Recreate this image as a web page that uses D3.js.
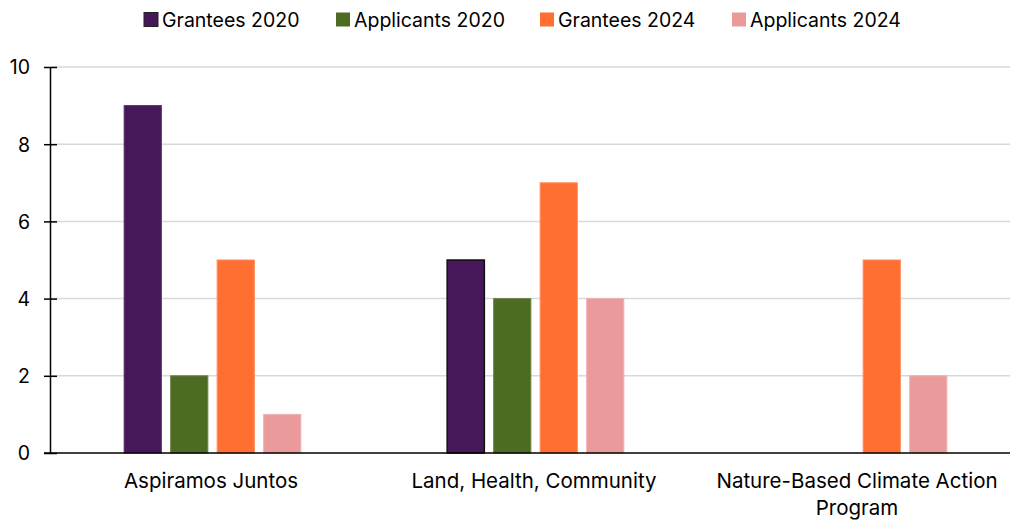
<!DOCTYPE html>
<html>
<head>
<meta charset="utf-8">
<script src="https://cdn.jsdelivr.net/npm/d3@7"></script>
<style>
  html, body { margin: 0; padding: 0; background: #fff; }
  svg { display: block; font-family: "Inter", "Liberation Sans", sans-serif; }
</style>
</head>
<body>
<svg id="chart" width="1010" height="521"></svg>
<script>
// Programs along the x axis (label lines kept separate for wrapping)
const categories = ["Aspiramos Juntos", "Land, Health, Community", "Nature-Based Climate Action Program"];
const categoryLines = [["Aspiramos Juntos"], ["Land, Health, Community"], ["Nature-Based Climate Action", "Program"]];

// Series names and counts per program
const seriesNames = ["Grantees 2020", "Applicants 2020", "Grantees 2024", "Applicants 2024"];
const grantees2020 = [9, 5, null];
const applicants2020 = [2, 4, null];
const grantees2024 = [5, 7, 5];
const applicants2024 = [1, 4, 2];
const seriesValues = [grantees2020, applicants2020, grantees2024, applicants2024];

const yTicks = [0, 2, 4, 6, 8, 10];
const colors = ["#46185A", "#4E6B24", "#FF6F31", "#EA9A9B"];
const strokes = ["#5a2e70", "#6a8540", "#ff8c5c", "#f0b2b3"];

const svg = d3.select("#chart");
const axisX = 50, plotRight = 1018.5, plotTop = 67, plotBottom = 453;

const x0 = d3.scaleBand().domain(categories).range([axisX - 0.5, plotRight]).padding(0);
const x1 = d3.scaleBand().domain(seriesNames).range([70, 256]).paddingInner(0.2).paddingOuter(0.1);
const y = d3.scaleLinear().domain([0, 10]).range([plotBottom, plotTop]);

// Gridlines
svg.append("g")
  .selectAll("line")
  .data(yTicks.filter(t => t !== 0))
  .join("line")
  .attr("x1", axisX).attr("x2", 1010)
  .attr("y1", d => y(d)).attr("y2", d => y(d))
  .attr("stroke", "#d9d9d9").attr("stroke-width", 1.5);

// Bars
const rows = [];
categories.forEach((c, i) => {
  seriesNames.forEach((s, j) => {
    const v = seriesValues[j][i];
    if (v != null) rows.push({ c, s, j, i, v });
  });
});

svg.append("g")
  .selectAll("rect")
  .data(rows)
  .join("rect")
  .attr("x", d => x0(d.c) + x1(d.s))
  .attr("y", d => y(d.v))
  .attr("width", x1.bandwidth())
  .attr("height", d => y(0) - y(d.v))
  .attr("fill", d => colors[d.j])
  .attr("stroke", d => (d.i === 1 && d.j === 0) ? "#111" : strokes[d.j])
  .attr("stroke-width", d => (d.i === 1 && d.j === 0) ? 1.5 : 1);

// Y axis
const yAxis = d3.axisLeft(y).tickValues(yTicks).tickSize(0).tickPadding(20);
const gy = svg.append("g").attr("transform", `translate(${axisX},0)`).call(yAxis);
gy.select(".domain").attr("stroke", "#000").attr("stroke-width", 1.5);
gy.selectAll(".tick text").attr("font-size", 19.5).attr("fill", "#000")
  .attr("font-family", "Inter, sans-serif").attr("dy", "0.35em");
gy.selectAll(".tick").append("line")
  .attr("x1", -6).attr("x2", 7).attr("stroke", "#000").attr("stroke-width", 1.5);

// Baseline
svg.append("line")
  .attr("x1", axisX - 6).attr("x2", plotRight)
  .attr("y1", y(0)).attr("y2", y(0))
  .attr("stroke", "#000").attr("stroke-width", 1.5);

// Category labels
const cat = svg.append("g").selectAll("text")
  .data(categories)
  .join("text")
  .attr("x", d => x0(d) + x0.bandwidth() / 2)
  .attr("y", 488)
  .attr("text-anchor", "middle")
  .attr("font-size", 20.5)
  .attr("fill", "#000");
cat.each(function(d, i) {
  d3.select(this).selectAll("tspan")
    .data(categoryLines[i])
    .join("tspan")
    .attr("x", x0(d) + x0.bandwidth() / 2)
    .attr("dy", (t, k) => k === 0 ? 0 : 27)
    .text(t => t);
});

// Legend
const legendX = [144, 336, 540, 732];
const lg = svg.append("g").selectAll("g")
  .data(seriesNames)
  .join("g")
  .attr("transform", (d, i) => `translate(${legendX[i]},12.5)`);
lg.append("rect")
  .attr("width", 14).attr("height", 14)
  .attr("fill", (d, i) => colors[i])
  .attr("stroke", (d, i) => i === 0 ? "#222" : "none")
  .attr("stroke-width", 1);
lg.append("text")
  .attr("x", 18).attr("y", 14)
  .attr("font-size", 19.5).attr("fill", "#000")
  .text(d => d);
</script>
</body>
</html>
